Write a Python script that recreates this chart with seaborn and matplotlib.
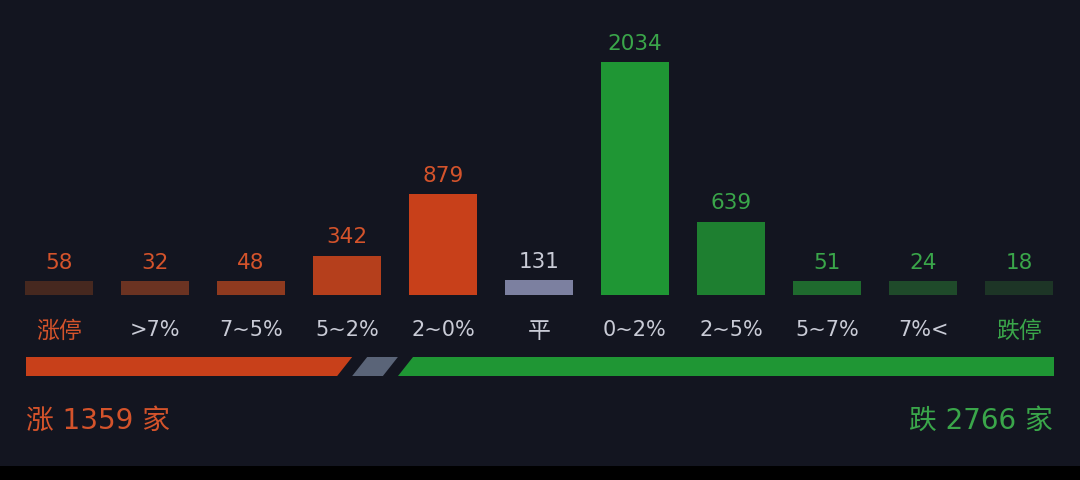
import numpy as np
import pandas as pd
import matplotlib
matplotlib.use("Agg")
import matplotlib.pyplot as plt
from matplotlib.patches import Polygon, Rectangle
import seaborn as sns

# --- data ---
CATEGORIES = ["涨停", ">7%", "7~5%", "5~2%", "2~0%", "平", "0~2%", "2~5%", "5~7%", "7%<", "跌停"]
COUNTS = [58, 32, 48, 342, 879, 131, 2034, 639, 51, 24, 18]
UP_TOTAL = 1359
FLAT_TOTAL = 131
DOWN_TOTAL = 2766

# --- styling ---
BG = "#131520"
RED = "#c8401a"
GREEN = "#1f9634"
RED_TXT = "#d4532b"
GREEN_TXT = "#3aa64a"
GRAY_TXT = "#c9cbd6"
BAR_COLORS = ["#46281f", "#6b3322", "#8f3a1f", "#b53f1c", "#c8401a", "#7c80a0",
              "#1f9634", "#1e7f30", "#1f6a2e", "#1f4a2a", "#1d3526"]
LABEL_COLORS = [RED_TXT] * 5 + [GRAY_TXT] + [GREEN_TXT] * 5
TICK_COLORS = [RED_TXT] + [GRAY_TXT] * 9 + [GREEN_TXT]
MIN_BAR = 122  # small counts still get a visible stub

sns.set_theme(style="dark")
plt.rcParams["font.family"] = ["DejaVu Sans", "Noto Sans CJK SC"]

W, H = 1080, 480
fig = plt.figure(figsize=(W / 100, H / 100), dpi=100, facecolor=BG)

# main bar axes
ax = fig.add_axes([11 / W, 1 - 295 / H, (1067 - 11) / W, 275 / H])
ax.set_facecolor(BG)

df = pd.DataFrame({"cat": CATEGORIES, "count": COUNTS})
df["shown"] = np.maximum(df["count"], MIN_BAR)

sns.barplot(data=df, x="cat", y="shown", hue="cat", palette=BAR_COLORS,
            width=0.7, legend=False, ax=ax, saturation=1, linewidth=0)

ax.set_xlim(-0.5, len(CATEGORIES) - 0.5)
ax.set_ylim(0, 2034 * 275 / 233)
ax.set_xlabel("")
ax.set_ylabel("")
ax.set_yticks([])
for s in ax.spines.values():
    s.set_visible(False)
ax.grid(False)

# one container per hue level in seaborn 0.13
for cont, val, col in zip(ax.containers, COUNTS, LABEL_COLORS):
    for t in ax.bar_label(cont, labels=[str(val)], padding=6, fontsize=15.5):
        t.set_color(col)

ax.tick_params(axis="x", length=0, pad=18, labelsize=15)
for lbl, col in zip(ax.get_xticklabels(), TICK_COLORS):
    lbl.set_color(col)
    if not any(ch in lbl.get_text() for ch in "0123456789"):
        lbl.set_fontsize(16.5)  # CJK labels look a bit bigger in the original

# ratio bar underneath
rax = fig.add_axes([26 / W, 1 - 376 / H, (1054 - 26) / W, 19 / H])
rax.set_facecolor(BG)
rax.axis("off")
span = 1028.0
gap = 15.0
slant = 7.5
totals = [UP_TOTAL, FLAT_TOTAL, DOWN_TOTAL]
seg_colors = [RED, "#5a6478", GREEN]
scale = (span - 2 * gap) / sum(totals)
x0 = 0.0
for i, (tot, col) in enumerate(zip(totals, seg_colors)):
    x1 = x0 + tot * scale
    left_top = x0 + slant if i > 0 else x0
    left_bot = x0 - slant if i > 0 else x0
    right_top = x1 + slant if i < 2 else x1
    right_bot = x1 - slant if i < 2 else x1
    rax.add_patch(Polygon([(left_bot, 0), (right_bot, 0), (right_top, 1), (left_top, 1)],
                          closed=True, facecolor=col, edgecolor="none"))
    x0 = x1 + gap
rax.set_xlim(0, span)
rax.set_ylim(0, 1)

# totals text
fig.text(26 / W, 1 - 421 / H, f"涨 {UP_TOTAL} 家", color=RED_TXT, fontsize=20,
         ha="left", va="center")
fig.text(1053 / W, 1 - 421 / H, f"跌 {DOWN_TOTAL} 家", color=GREEN_TXT, fontsize=20,
         ha="right", va="center")

# black strip at the bottom edge
fig.add_artist(Rectangle((0, 0), 1, 14 / H, transform=fig.transFigure,
                         facecolor="black", edgecolor="none"))

fig.savefig("out.png", dpi=100, facecolor=BG)
